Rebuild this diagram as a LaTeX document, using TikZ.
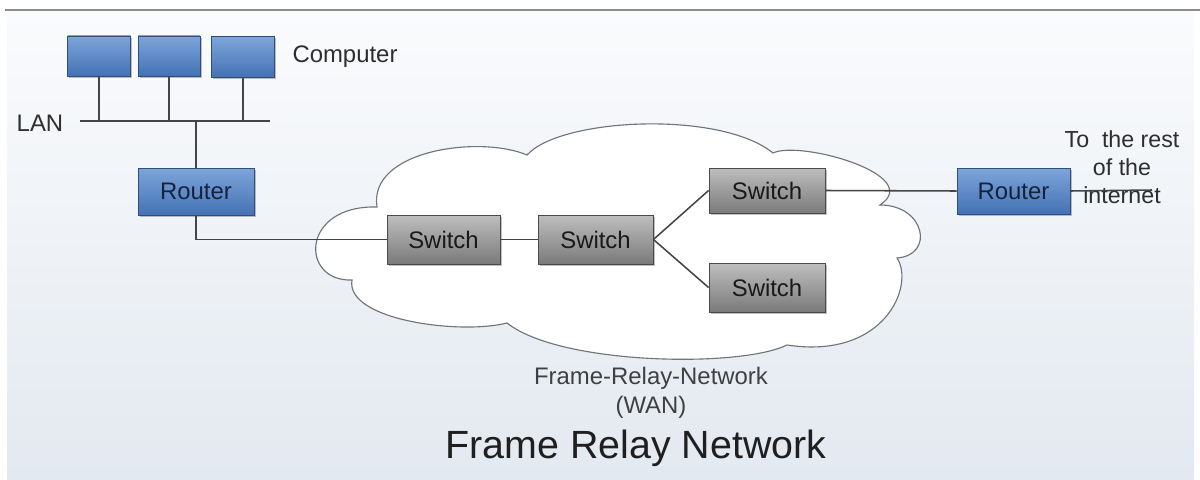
\documentclass[tikz,border=0pt]{standalone}
\usepackage{fontspec}
\setmainfont{Liberation Sans}
\usetikzlibrary{shadows}
\pgfdeclarelayer{bg}
\pgfsetlayers{bg,main}

\definecolor{linegray}{HTML}{454545}
\definecolor{cloudgray}{HTML}{6E747A}
\definecolor{bluetop}{HTML}{7EA5DA}
\definecolor{bluebot}{HTML}{4372B4}
\definecolor{blueedge}{HTML}{2F4E78}
\definecolor{bluetext}{HTML}{16223C}
\definecolor{graytop}{HTML}{BEBEBE}
\definecolor{graybot}{HTML}{7A7A7A}
\definecolor{grayedge}{HTML}{4A4A4A}
\definecolor{bgtop}{HTML}{FAFBFD}
\definecolor{bgbot}{HTML}{E3E9F0}

\tikzset{
  x=0.025cm, y=-0.025cm,
  boxshadow/.style={drop shadow={shadow xshift=1.3pt, shadow yshift=-1.3pt, opacity=0.35, fill=black!70}},
  bluebox/.style={draw=blueedge, line width=0.6pt, top color=bluetop, bottom color=bluebot,
    boxshadow, inner sep=0pt, font=\fontsize{17}{20}\selectfont, text=bluetext},
  graybox/.style={draw=grayedge, line width=0.6pt, top color=graytop, bottom color=graybot,
    boxshadow, inner sep=0pt, font=\fontsize{17}{20}\selectfont, text=black!90},
  wire/.style={draw=linegray, line width=1.1pt},
  lbl/.style={font=\fontsize{17}{20.5}\selectfont, text=black!82, align=center, inner sep=0pt},
}

\begin{document}
\begin{tikzpicture}
\useasboundingbox (0,0) rectangle (1200,479);

% computers on the LAN
\node[bluebox, minimum width=63*0.025cm, minimum height=40*0.025cm] (c1) at (99,56) {};
\node[bluebox, minimum width=62*0.025cm, minimum height=40*0.025cm] (c2) at (169,56) {};
\node[bluebox, minimum width=63*0.025cm, minimum height=41*0.025cm] (c3) at (243,57) {};

% routers
\node[bluebox, minimum width=116*0.025cm, minimum height=47*0.025cm] (r1) at (196,191.5) {Router};
\node[bluebox, minimum width=113*0.025cm, minimum height=46*0.025cm] (r2) at (1013.5,191) {Router};

% switches of the WAN
\node[graybox, minimum width=113*0.025cm, minimum height=49*0.025cm] (s1) at (443.5,239.5) {Switch};
\node[graybox, minimum width=115*0.025cm, minimum height=49*0.025cm] (s2) at (595.5,239.5) {Switch};
\node[graybox, minimum width=116*0.025cm, minimum height=45*0.025cm] (s3) at (767,190.5) {Switch};
\node[graybox, minimum width=116*0.025cm, minimum height=49*0.025cm] (s4) at (767,287.5) {Switch};

% LAN bus and uplink end
\coordinate (lanL) at (80,121);
\coordinate (lanR) at (270,121);
\coordinate (net) at (1152,190);

% labels
\node[lbl] (lan) at (40,123) {LAN};
\node[lbl] (comp) at (345,57) {Computer};
\node[lbl, font=\fontsize{16.5}{20}\selectfont] (rest) at (1122,167) {To\ \ the rest\\of the\\internet};
\node[lbl, text=black!75] (wan) at (651,392.5) {Frame-Relay-Network\\(WAN)};
\node[lbl, font=\fontsize{28}{32}\selectfont, text=black!88] (title) at (636,448) {Frame Relay Network};

% connections
\draw[wire] (lanL) -- (lanR);
\draw[wire] (c1.south) -- (c1.south |- lanL);
\draw[wire] (c2.south) -- (c2.south |- lanL);
\draw[wire] (c3.south) -- (c3.south |- lanL);
\draw[wire] (r1.north |- lanL) -- (r1.north);
\draw[wire] (r1.south) |- (s1.west);
\draw[wire] (s1.east) -- (s2.west);
\draw[wire] (s2.east) -- (s3.west);
\draw[wire] (s2.east) -- (s4.west);
\draw[wire] (s3.east) -- (r2.west);
\draw[wire] (r2.east) -- (net);

\begin{pgfonlayer}{bg}
  % page background and frame line
  \fill[white] (0,0) rectangle (1200,479);
  \shade[top color=bgtop, bottom color=bgbot] (7,11) rectangle (1194,479);
  \draw[black!45, line width=1.2pt] (5,10) -- (1200,10);
  % WAN cloud
  \draw[cloudgray, line width=0.8pt, fill=white]
    (377,207) .. controls (368,150) and (480,135) .. (527,155)
    .. controls (560,118) and (720,110) .. (773,153)
    .. controls (800,140) and (925,175) .. (880,205)
    .. controls (925,205) and (935,255) .. (897,258)
    .. controls (915,285) and (885,360) .. (787,345)
    .. controls (740,368) and (560,365) .. (507,323)
    .. controls (460,335) and (345,320) .. (352,280)
    .. controls (300,282) and (300,205) .. (377,207) -- cycle;
\end{pgfonlayer}
\end{tikzpicture}
\end{document}
